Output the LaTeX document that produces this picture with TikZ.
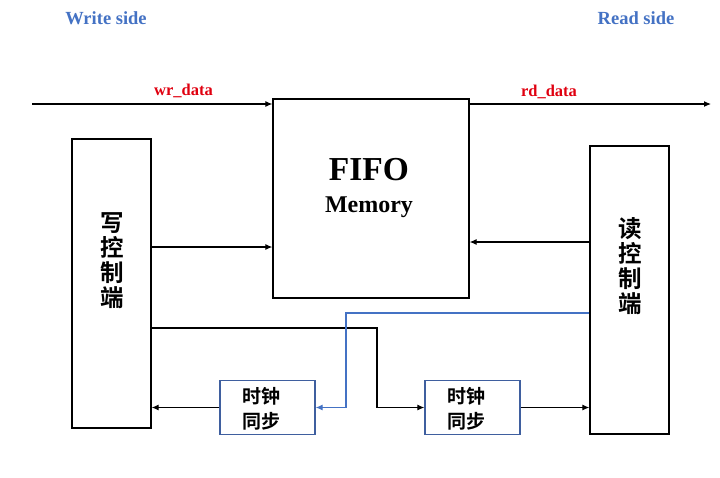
\documentclass[tikz,border=0pt]{standalone}
\usepackage{fontspec}
\setmainfont{Liberation Serif}
\newfontfamily\cjk{Noto Sans CJK SC}[BoldFont={Noto Sans CJK SC Bold}]
\usetikzlibrary{arrows.meta}
\definecolor{sideblue}{HTML}{4472C4}
\definecolor{boxblue}{HTML}{3F5F9F}
\definecolor{sigred}{HTML}{E00010}
\begin{document}
\begin{tikzpicture}[x=1pt,y=-1pt,
  blk/.style={draw=black,line width=1.3pt,rectangle,inner sep=0pt},
  syncbox/.style={draw=boxblue,line width=1.3pt,rectangle,inner sep=0pt,minimum width=95pt,minimum height=54pt},
  synctext/.style={font=\cjk\bfseries\fontsize{19}{25}\selectfont,align=left,inner sep=0pt},
  conn/.style={line width=1.1pt,-{Latex[length=7pt,width=6pt]}},
  bconn/.style={conn,draw=sideblue,-{Latex[length=7pt,width=6pt,fill=sideblue]}},
  sidelbl/.style={text=sideblue,font=\bfseries\fontsize{18.5}{20}\selectfont},
  siglbl/.style={text=sigred,font=\bfseries\fontsize{16.5}{18}\selectfont},
  vtext/.style={font=\cjk\bfseries\fontsize{23.5}{25}\selectfont,align=center,inner sep=0pt}
]
\useasboundingbox (0,0) rectangle (720,477);
\fill[white] (0,0) rectangle (720,477);

% titles
\node[sidelbl] (wside) at (106,18) {Write side};
\node[sidelbl] (rside) at (636,18) {Read side};

% blocks
\node[blk,minimum width=196pt,minimum height=199pt] (fifo) at (371,198.5) {};
\node (fifot) at (369,170) {\bfseries\fontsize{33.5}{38}\selectfont FIFO};
\node (memt) at (369,207) {\bfseries\fontsize{24}{28}\selectfont Memory};

\node[blk,minimum width=79pt,minimum height=289pt] (wctl) at (111.5,283.5) {};
\node[vtext] (wtxt) at (112.5,261) {写\\控\\制\\端};
\node[blk,minimum width=79pt,minimum height=288pt] (rctl) at (629.5,290) {};
\node[vtext] (rtxt) at (630.5,266) {读\\控\\制\\端};

\node[syncbox] (s1) at (267.5,407.5) {};
\node[synctext] (s1t) at (261.5,409) {时钟\\同步};
\node[syncbox] (s2) at (472.5,407.5) {};
\node[synctext] (s2t) at (466,409) {时钟\\同步};

% data lines
\coordinate (win) at (32,104);
\coordinate (rout) at (711,104);
\draw[conn] (win) -- (win -| fifo.west);
\draw[conn] (rout -| fifo.east) -- (rout);
\node[siglbl] (wrl) at (183.5,91) {wr\_data};
\node[siglbl] (rdl) at (549,92) {rd\_data};

% control
\coordinate (wa) at (0,247);
\draw[conn] (wa -| wctl.east) -- (wa -| fifo.west);
\coordinate (ra) at (0,242);
\draw[conn] (ra -| rctl.west) -- (ra -| fifo.east);

% write -> sync2 -> read
\coordinate (wb) at (0,328);
\coordinate (bend1) at (377,328);
\draw[conn] (wb -| wctl.east) -- (bend1) |- (s2.west);
\draw[conn] (s2.east) -- (s2.east -| rctl.west);

% read -> sync1 -> write
\coordinate (rb) at (0,313);
\coordinate (bend2) at (346,313);
\draw[bconn] (rb -| rctl.west) -- (bend2) |- (s1.east);
\draw[conn] (s1.west) -- (s1.west -| wctl.east);
\end{tikzpicture}
\end{document}
